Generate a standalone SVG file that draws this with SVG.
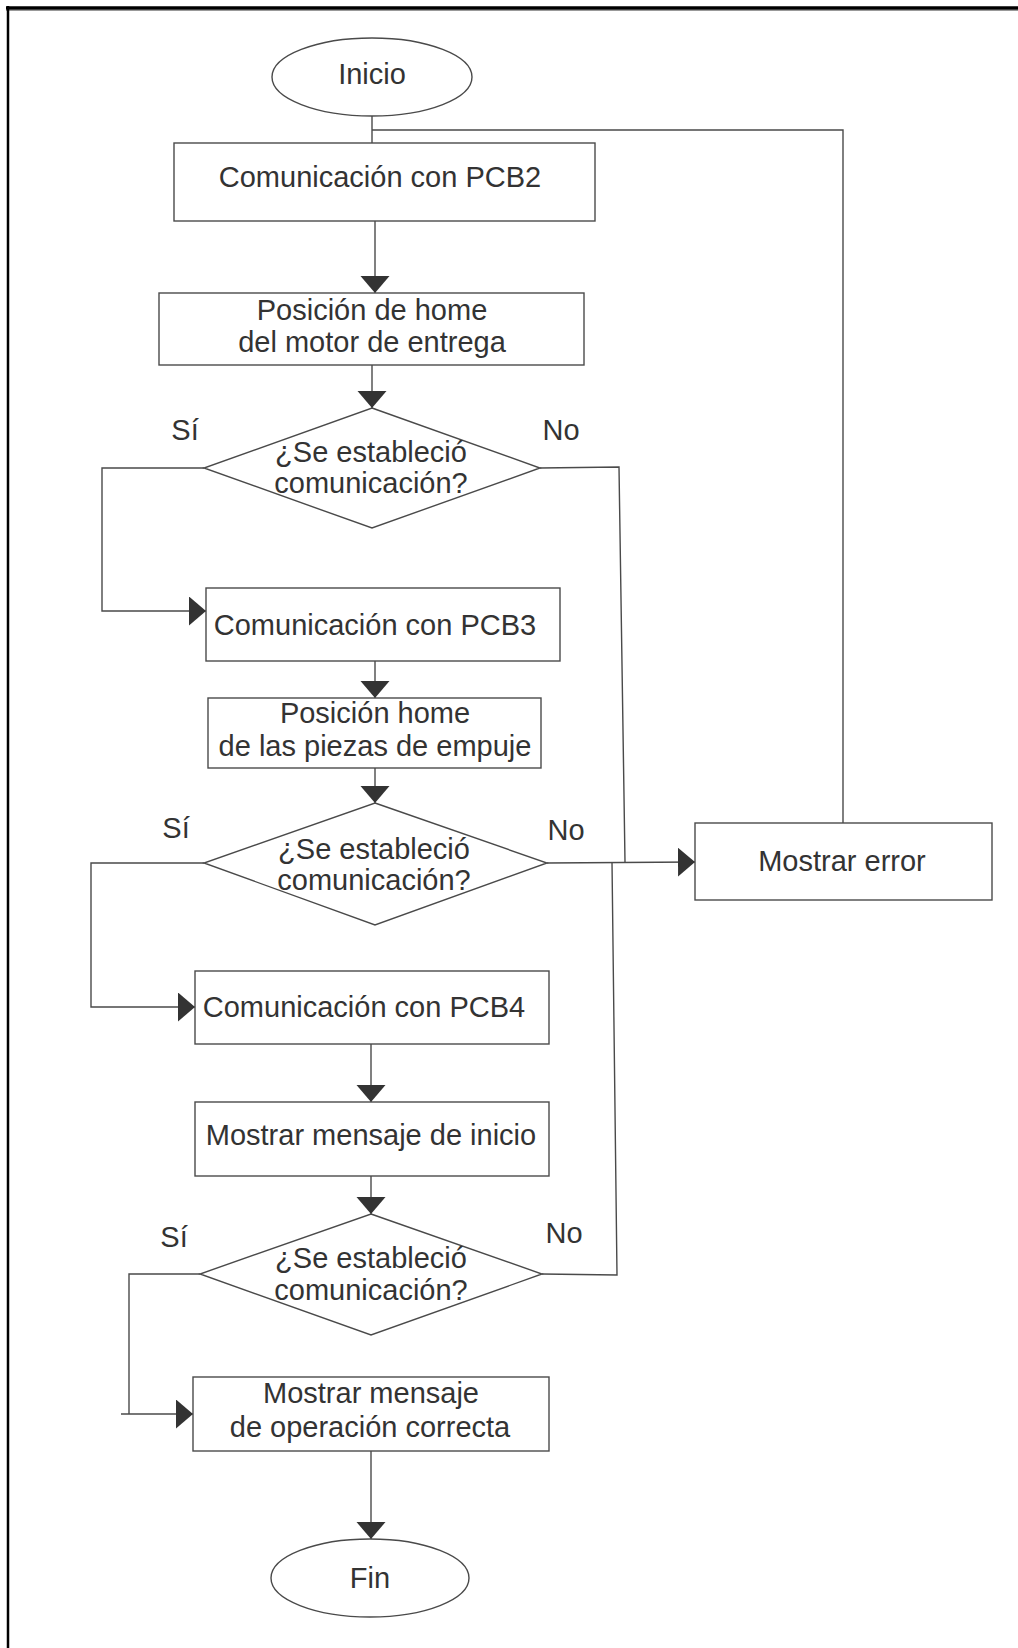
<svg xmlns="http://www.w3.org/2000/svg" width="1018" height="1648" viewBox="0 0 1018 1648">
<style>
.sh{fill:#fff;stroke:#4a4a4a;stroke-width:1.4}
.t{font-family:"Liberation Sans",Arial,sans-serif;font-size:29px;fill:#333;text-anchor:middle}
.c{fill:none;stroke:#4a4a4a;stroke-width:1.4}
</style>
<defs>
<marker id="ah" markerUnits="userSpaceOnUse" markerWidth="18" markerHeight="30" refX="17" refY="14.5" orient="auto">
<path d="M0,0 L17,14.5 L0,29 Z" fill="#333"/>
</marker>
</defs>
<rect width="1018" height="1648" fill="#fff"/>
<g id="frame">
<line x1="6" y1="8" x2="1018" y2="8" stroke="#000" stroke-width="3.5"/>
<line x1="6" y1="10.5" x2="1018" y2="10.5" stroke="#999" stroke-width="1"/>
<line x1="8" y1="6" x2="8" y2="1648" stroke="#000" stroke-width="2.5"/>
</g>
<g id="connectors">
<line class="c" x1="372" y1="116" x2="372" y2="143"/>
<polyline class="c" points="843,823 843,130 372,130"/>
<line class="c" x1="375" y1="221" x2="375" y2="293" marker-end="url(#ah)"/>
<line class="c" x1="372" y1="365" x2="372" y2="408" marker-end="url(#ah)"/>
<polyline class="c" points="204,468 102,468 102,611 206,611" marker-end="url(#ah)"/>
<polyline class="c" points="540,468 619,467 625,862"/>
<line class="c" x1="375" y1="661" x2="375" y2="698" marker-end="url(#ah)"/>
<line class="c" x1="375" y1="768" x2="375" y2="803" marker-end="url(#ah)"/>
<polyline class="c" points="204,863 91,863 91,1007 195,1007" marker-end="url(#ah)"/>
<polyline class="c" points="547,863 695,862" marker-end="url(#ah)"/>
<line class="c" x1="371" y1="1044" x2="371" y2="1102" marker-end="url(#ah)"/>
<line class="c" x1="371" y1="1176" x2="371" y2="1214" marker-end="url(#ah)"/>
<polyline class="c" points="200,1274 129,1274 129,1414"/>
<line class="c" x1="121" y1="1414" x2="193" y2="1414" marker-end="url(#ah)"/>
<polyline class="c" points="542,1274 617,1275 612,862"/>
<line class="c" x1="371" y1="1451" x2="371" y2="1539" marker-end="url(#ah)"/>
</g>
<g id="inicio">
<ellipse class="sh" cx="372" cy="77" rx="100" ry="39"/>
<text class="t" x="372" y="84">Inicio</text>
</g>
<g id="pcb2">
<rect class="sh" x="174" y="143" width="421" height="78"/>
<text class="t" x="380" y="187">Comunicación con PCB2</text>
</g>
<g id="home-motor">
<rect class="sh" x="159" y="293" width="425" height="72"/>
<text class="t" x="372" y="320">Posición de home</text>
<text class="t" x="372" y="352">del motor de entrega</text>
</g>
<g id="decision1">
<polygon class="sh" points="372,408 540,468 372,528 204,468"/>
<text class="t" x="371" y="462">¿Se estableció</text>
<text class="t" x="371" y="493">comunicación?</text>
<text class="t" x="185" y="440">Sí</text>
<text class="t" x="561" y="440">No</text>
</g>
<g id="pcb3">
<rect class="sh" x="206" y="588" width="354" height="73"/>
<text class="t" x="375" y="635">Comunicación con PCB3</text>
</g>
<g id="home-empuje">
<rect class="sh" x="208" y="698" width="333" height="70"/>
<text class="t" x="375" y="723">Posición home</text>
<text class="t" x="375" y="756">de las piezas de empuje</text>
</g>
<g id="decision2">
<polygon class="sh" points="375,803 547,863 375,925 204,863"/>
<text class="t" x="374" y="859">¿Se estableció</text>
<text class="t" x="374" y="890">comunicación?</text>
<text class="t" x="176" y="838">Sí</text>
<text class="t" x="566" y="840">No</text>
</g>
<g id="error">
<rect class="sh" x="695" y="823" width="297" height="77"/>
<text class="t" x="842" y="871">Mostrar error</text>
</g>
<g id="pcb4">
<rect class="sh" x="195" y="971" width="354" height="73"/>
<text class="t" x="364" y="1017">Comunicación con PCB4</text>
</g>
<g id="msg-inicio">
<rect class="sh" x="195" y="1102" width="354" height="74"/>
<text class="t" x="371" y="1145">Mostrar mensaje de inicio</text>
</g>
<g id="decision3">
<polygon class="sh" points="371,1214 542,1274 371,1335 200,1274"/>
<text class="t" x="371" y="1268">¿Se estableció</text>
<text class="t" x="371" y="1300">comunicación?</text>
<text class="t" x="174" y="1247">Sí</text>
<text class="t" x="564" y="1243">No</text>
</g>
<g id="msg-ok">
<rect class="sh" x="193" y="1377" width="356" height="74"/>
<text class="t" x="371" y="1403">Mostrar mensaje</text>
<text class="t" x="370" y="1437">de operación correcta</text>
</g>
<g id="fin">
<ellipse class="sh" cx="370" cy="1578" rx="99" ry="39"/>
<text class="t" x="370" y="1588">Fin</text>
</g>
</svg>
